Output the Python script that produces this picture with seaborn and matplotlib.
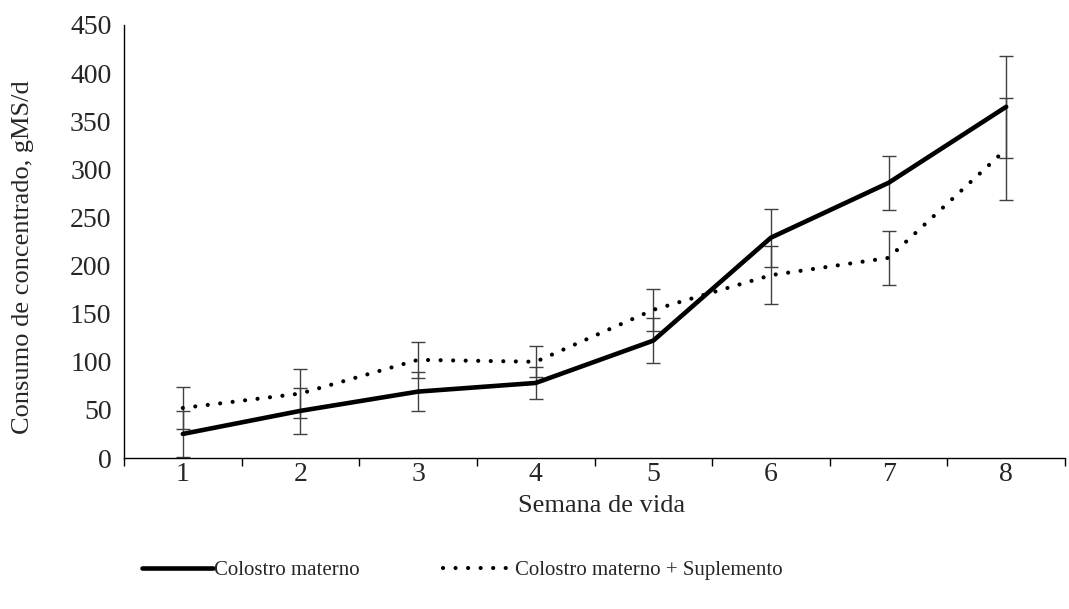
import matplotlib
matplotlib.use("Agg")
import matplotlib.pyplot as plt
import seaborn as sns
import numpy as np
import pandas as pd

semanas = [1, 2, 3, 4, 5, 6, 7, 8]
materno = [25, 49, 69, 78, 122, 229, 286, 365]
materno_err = [24, 24, 20, 17, 23, 30, 28, 53]
suplemento = [52, 67, 102, 100, 154, 190, 208, 321]
suplemento_err = [22, 25, 19, 16, 22, 30, 28, 53]
yticks = [0, 50, 100, 150, 200, 250, 300, 350, 400, 450]

sns.set_theme(style="white")
plt.rcParams['font.family'] = ['Liberation Serif', 'DejaVu Serif']

W, H = 1069, 609
fig = plt.figure(figsize=(W / 100, H / 100), dpi=100)
ax = fig.add_axes([124 / W, (H - 458) / H, (1065 - 124) / W, (458 - 25) / H])

df = pd.DataFrame({
    "Semana": semanas * 2,
    "Consumo": materno + suplemento,
    "Grupo": ["Colostro materno"] * 8 + ["Colostro materno + Suplemento"] * 8,
})

ax.errorbar(semanas, materno, yerr=materno_err, fmt="none", ecolor="#404040",
            elinewidth=1.0, capsize=4.7, capthick=1.0, zorder=1)
ax.errorbar(semanas, suplemento, yerr=suplemento_err, fmt="none", ecolor="#404040",
            elinewidth=1.0, capsize=4.7, capthick=1.0, zorder=1)

sns.lineplot(data=df[df.Grupo == "Colostro materno"], x="Semana", y="Consumo",
             color="black", linewidth=3.3, ax=ax, label="Colostro materno",
             zorder=3, solid_capstyle="round")
sns.lineplot(data=df[df.Grupo != "Colostro materno"], x="Semana", y="Consumo",
             color="black", linewidth=3.0, ax=ax, label="Colostro materno + Suplemento",
             zorder=3, linestyle=(0, (0.01, 3.0)), dash_capstyle="round")

ax.set_xlim(0.5, 0.5 + (1065 - 124) / 120)
ax.set_ylim(0, 450)
ax.set_yticks(yticks)
ax.set_yticklabels([str(v) for v in yticks], fontsize=20)
ax.set_xticks(semanas)
ax.set_xticklabels([str(s) for s in semanas], fontsize=20)
ax.set_xticks(np.arange(0.5, 9, 1.0), minor=True)
ax.tick_params(axis="x", which="major", length=0, pad=3)
ax.tick_params(axis="x", which="minor", length=6, width=1, color="black", direction="out", bottom=True)
ax.tick_params(axis="y", length=0, pad=9)

for s in ["top", "right"]:
    ax.spines[s].set_visible(False)
for s in ["left", "bottom"]:
    ax.spines[s].set_color("black")
    ax.spines[s].set_linewidth(1.0)

ax.set_xlabel("Semana de vida", fontsize=19)
ax.set_ylabel("Consumo de concentrado, gMS/d", fontsize=19)
ax.xaxis.set_label_coords((602 - 124) / 941, -(495 - 458) / 433)
ax.yaxis.set_label_coords(-(124 - 34) / 941, (458 - 257) / 433)

leg = fig.legend(*ax.get_legend_handles_labels(), loc="center",
                 bbox_to_anchor=(462 / W, (H - 570) / H), ncol=2, frameon=False,
                 fontsize=15, handlelength=3.4, handletextpad=0.05, columnspacing=4.0)
ax.get_legend().remove()

fig.savefig("out.png", dpi=100)
